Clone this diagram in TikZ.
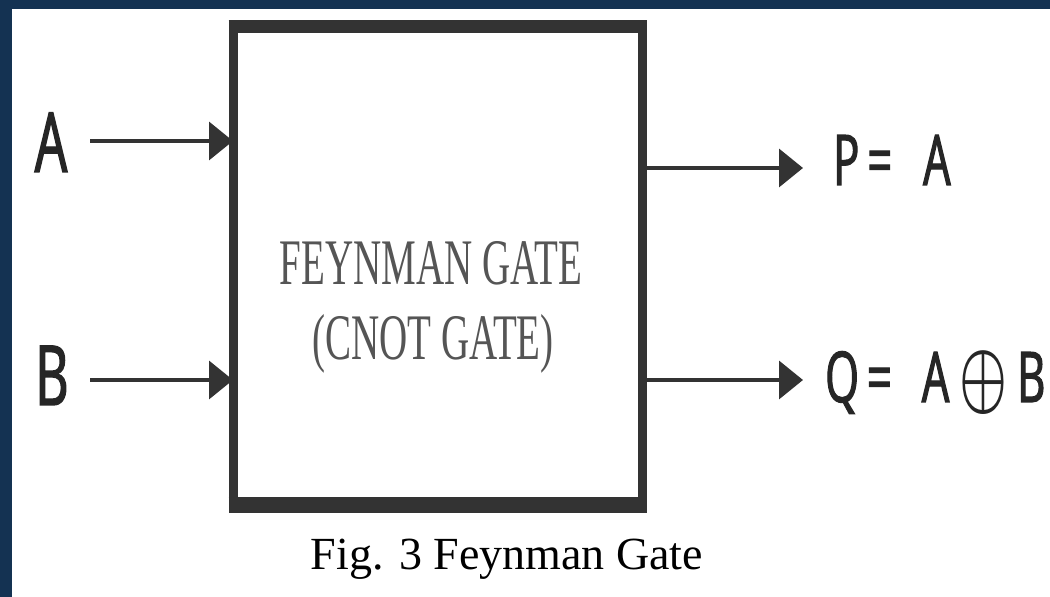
\documentclass[tikz,border=0pt]{standalone}
\usepackage{fontspec}
\usepackage{amsmath}
\usepackage{graphicx}
\setmainfont{Liberation Serif}
\newfontfamily\gatefont[FakeStretch=0.6]{Liberation Serif}
\newfontfamily\sigfont[FakeStretch=0.62, FakeBold=1.6]{Open Sans}
\usetikzlibrary{arrows.meta, positioning}

\definecolor{slate}{HTML}{143252}
\definecolor{inkgray}{HTML}{333333}
\definecolor{gatetextgray}{HTML}{555555}
\newcommand{\xorsym}{\raisebox{-2pt}{\resizebox*{48pt}{64pt}{$\boldsymbol{\oplus}$}}}

\tikzset{
  gatebox/.style={draw=inkgray, line width=9pt, minimum width=409.5pt, minimum height=478.5pt, inner sep=0pt, outer sep=0pt},
  gatelabel/.style={anchor=base, inner sep=0pt, text=gatetextgray, font=\gatefont\fontsize{65}{75}\selectfont},
  sigin/.style={anchor=base, inner sep=0pt, text=black!85, font=\sigfont\fontsize{83}{90}\selectfont},
  sigout/.style={anchor=base west, inner sep=0pt, text=black!85, font=\sigfont\fontsize{70}{80}\selectfont},
  wire/.style={draw=inkgray, line width=3.5pt, -{Triangle[length=24pt,width=38pt]}},
}

\begin{document}
\begin{tikzpicture}[x=1pt, y=1pt]
    \useasboundingbox (0,0) rectangle (1050,597);
    % page background and white sheet
    \fill[slate] (0,0) rectangle (1050,597);
    \fill[white] (12,0) rectangle (1050,588);

    % the gate block
    \node[gatebox] (gate) at (437.75,331.25) {};
    \draw[inkgray, line width=13pt, shorten <=-4.5pt, shorten >=-4.5pt] (gate.north west) -- (gate.north east);
    \draw[inkgray, line width=16pt, shorten <=-4.5pt, shorten >=-4.5pt] (gate.south west) -- (gate.south east);
    \node[gatelabel] (gateName) at (431,312) {FEYNMAN GATE};
    \node[gatelabel] (gateAlias) at (433,237) {(CNOT GATE)};

    % inputs
    \node[sigin] (labA) at (51,425) {A};
    \node[sigin] (labB) at (52,192) {B};
    \coordinate (inA) at (90,456);
    \coordinate (inB) at (90,217);
    \draw[wire] (inA) -- (inA -| gate.west);
    \draw[wire] (inB) -- (inB -| gate.west);

    % outputs
    \coordinate (outP) at (803,429);
    \coordinate (outQ) at (803,217);
    \draw[wire] (outP -| gate.east) -- (outP);
    \draw[wire] (outQ -| gate.east) -- (outQ);
    \node[sigout] (labP) at (833,412) {P\hspace{8pt}=\hspace{31pt}A};
    \node[sigout] (labQ) at (825,195) {Q\hspace{8pt}=\hspace{30pt}A\hspace{10pt}\xorsym\hspace{10pt}B};

    % caption
    \node[anchor=base, inner sep=0pt, font=\fontsize{46}{52}\selectfont] (caption) at (507,27) {Fig. 3 Feynman Gate};
\end{tikzpicture}
\end{document}
